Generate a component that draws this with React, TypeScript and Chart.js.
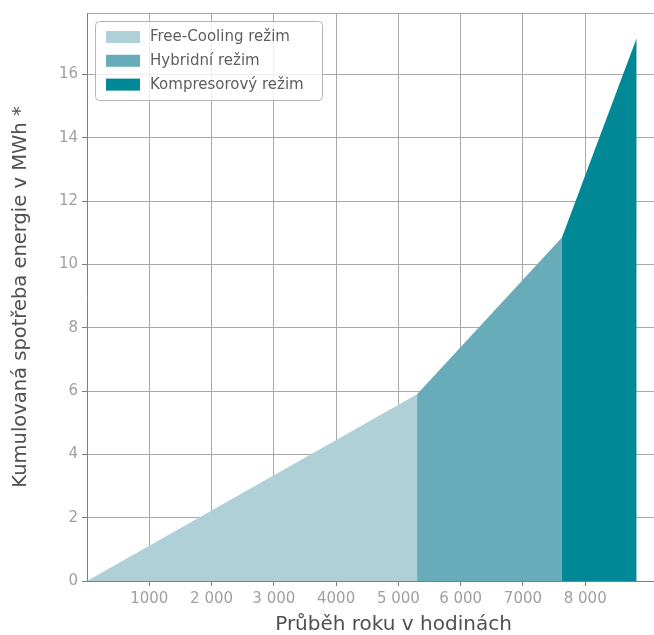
import React, { useEffect, useRef } from "react";
import { Chart, registerables } from "chart.js";

Chart.register(...registerables);

// Data
const hours = [0, 5300, 7626, 8826];
const energy = [0, 5.9, 10.85, 17.15];
const modes = ["Free-Cooling režim", "Hybridní režim", "Kompresorový režim"];
const modeColors = ["#b0d0d8", "#68abb9", "#008896"];

const xTickValues = [1000, 2000, 3000, 4000, 5000, 6000, 7000, 8000];
const xTickLabels = ["1000", "2 000", "3 000", "4000", "5 000", "6 000", "7000", "8 000"];
const yTickValues = [0, 2, 4, 6, 8, 10, 12, 14, 16];
const yTickLabels = ["0", "2", "4", "6", "8", "10", "12", "14", "16"];

const xTitle = "Průběh roku v hodinách";
const yTitle = "Kumulovaná spotřeba energie v MWh *";

const X_MAX = 9843;
const Y_MAX = 17.94;

const FONT = "'DejaVu Sans', sans-serif";
const GRID = "#a9a9a9";
const AXIS = "#7f7f7f";

const legendBoxPlugin = {
  id: "legendBox",
  afterDraw(chart: any) {
    const { ctx, chartArea } = chart;
    const left = chartArea.left + 8.5;
    const top = chartArea.top + 8.5;
    const w = 227;
    const h = 79;
    ctx.save();
    ctx.beginPath();
    if (ctx.roundRect) ctx.roundRect(left, top, w, h, 4);
    else ctx.rect(left, top, w, h);
    ctx.fillStyle = "rgba(255,255,255,0.8)";
    ctx.fill();
    ctx.lineWidth = 1;
    ctx.strokeStyle = "#b5b5b5";
    ctx.stroke();
    ctx.font = `15px ${FONT}`;
    ctx.textBaseline = "middle";
    ctx.textAlign = "left";
    chart.data.datasets.forEach((ds: any, i: number) => {
      const cy = top + 15.5 + i * 23.8;
      ctx.fillStyle = ds.backgroundColor;
      ctx.fillRect(left + 10.5, cy - 6, 34, 12);
      ctx.fillStyle = "#5e5e5e";
      ctx.fillText(ds.label, left + 54.5, cy + 0.5);
    });
    ctx.restore();
  },
};

export default function App() {
  const ref = useRef<HTMLCanvasElement | null>(null);

  useEffect(() => {
    document.body.style.margin = "0";
    const canvas = ref.current;
    if (!canvas) return;
    const datasets = modes.map((label, i) => ({
      label,
      data: [
        { x: hours[i], y: energy[i] },
        { x: hours[i + 1], y: energy[i + 1] },
      ],
      backgroundColor: modeColors[i],
      borderColor: modeColors[i],
      borderWidth: 0,
      pointRadius: 0,
      fill: "origin",
      tension: 0,
    }));
    const chart = new Chart(canvas, {
      type: "line",
      data: { datasets },
      options: {
        responsive: false,
        animation: false,
        layout: { padding: { top: 11, right: 0, bottom: 0, left: 0 } },
        plugins: {
          legend: { display: false },
          tooltip: { enabled: false },
        },
        scales: {
          x: {
            type: "linear",
            min: 0,
            max: X_MAX,
            afterBuildTicks: (scale: any) => {
              scale.ticks = xTickValues.map((v) => ({ value: v }));
            },
            afterFit: (scale: any) => {
              scale.height = 54;
            },
            ticks: {
              autoSkip: false,
              maxRotation: 0,
              padding: 4,
              color: "#a0a0a0",
              font: { family: FONT, size: 15 },
              callback: (v: any) => {
                const i = xTickValues.indexOf(Number(v));
                return i >= 0 ? xTickLabels[i] : "";
              },
            },
            grid: { color: GRID, lineWidth: 1, tickLength: 5, tickColor: AXIS },
            border: { color: AXIS, width: 1 },
            title: {
              display: true,
              text: xTitle,
              color: "#505050",
              font: { family: FONT, size: 20, lineHeight: 1.0 },
              padding: { top: 0, bottom: 0 },
            },
          },
          y: {
            type: "linear",
            min: 0,
            max: Y_MAX,
            afterBuildTicks: (scale: any) => {
              scale.ticks = [...yTickValues, Y_MAX].map((v) => ({ value: v }));
            },
            afterFit: (scale: any) => {
              scale.width = 87;
            },
            ticks: {
              autoSkip: false,
              padding: 4,
              color: "#a0a0a0",
              font: { family: FONT, size: 15 },
              callback: (v: any) => {
                const i = yTickValues.indexOf(Number(v));
                return i >= 0 ? yTickLabels[i] : "";
              },
            },
            grid: {
              color: (c: any) => (c.tick && c.tick.value === 0 ? AXIS : GRID),
              lineWidth: 1,
              tickLength: 5,
              tickColor: (c: any) => (c.tick && c.tick.value > 16 ? "rgba(0,0,0,0)" : AXIS),
            },
            border: { color: AXIS, width: 1 },
            title: {
              display: true,
              text: yTitle,
              color: "#505050",
              font: { family: FONT, size: 19.5 },
              padding: { top: 9, bottom: 0 },
            },
          },
        },
      },
      plugins: [legendBoxPlugin],
    } as any);
    return () => chart.destroy();
  }, []);

  return (
    <div
      style={{
        position: "absolute",
        left: 0,
        top: 0,
        width: 654,
        height: 635,
        overflow: "hidden",
        background: "#ffffff",
      }}
    >
      <canvas ref={ref} width={700} height={635} style={{ display: "block", width: 700, height: 635 }} />
    </div>
  );
}
